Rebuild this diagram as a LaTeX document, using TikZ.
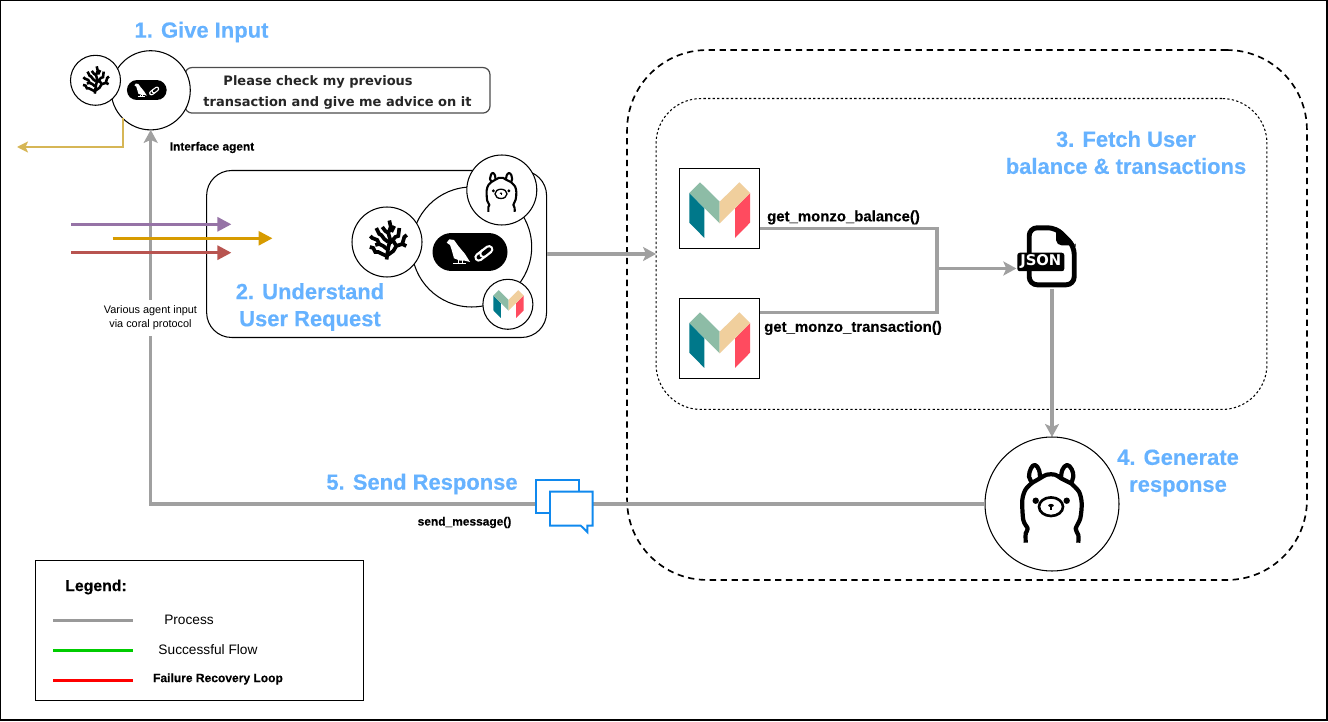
\documentclass[tikz,border=0pt]{standalone}
\usepackage{fontspec}
\setmainfont{Liberation Sans}[BoldFeatures={FakeBold=.4}]
\newfontfamily\dejavu{DejaVu Sans}
\usetikzlibrary{arrows.meta}
\definecolor{stepblue}{HTML}{66B2FF}
\definecolor{flowgray}{HTML}{A0A0A0}
\definecolor{chatblue}{HTML}{1089EE}
\definecolor{linegold}{HTML}{D6B656}
\definecolor{mteal}{HTML}{00788A}
\definecolor{mgreen}{HTML}{8DBCA6}
\definecolor{mtan}{HTML}{F0CF9D}
\definecolor{mred}{HTML}{FF4B5F}
\tikzset{
  steptitle/.style={text=stepblue,font=\fontsize{12.5}{15.4}\selectfont\bfseries,align=center,inner sep=0},
  smalltext/.style={font=\fontsize{6.2}{8}\selectfont,align=center,inner sep=0},
  fntext/.style={font=\fontsize{8.5}{10}\selectfont\bfseries,inner sep=0},
  agent/.style={circle,draw,fill=white,line width=.6pt,inner sep=0,outer sep=0,minimum size=#1},
  roundbox/.style={rectangle,draw,line width=.6pt,inner sep=0,outer sep=0},
  flowarrow/.style={draw=flowgray,line width=1.9pt,-{Stealth[length=.26cm,width=.28cm,inset=.06cm]}},
  flowline/.style={draw=flowgray,line width=1.9pt},
  inarrow/.style={line width=1.7pt,-{Triangle[length=.28cm,width=.28cm]}},
  legendline/.style={line width=1.6pt},
  legendtext/.style={font=\fontsize{7.8}{9}\selectfont,inner sep=0},
  pics/monzo/.style={code={
    \begin{scope}[scale=#1]
      \fill[mteal] (-30.3,-17) -- (-15.3,-1.7) -- (-15.3,28) -- (-30.3,12.7) -- cycle;
      \fill[mred] (30.3,-17) -- (15.3,-1.7) -- (15.3,28) -- (30.3,12.7) -- cycle;
      \fill[mgreen] (-30.3,-17) -- (-19.7,-27.7) -- (0,-8.3) -- (0,13.3) -- cycle;
      \fill[mtan] (0,-8.3) -- (19.7,-27.7) -- (30.3,-17) -- (0,13.3) -- cycle;
    \end{scope}}},
  pics/coral/.style={code={
    \begin{scope}[scale=#1,line width=#1*2.1pt,miter limit=2]
      \draw (-1.7,19.5) -- (0,7) -- (2,0) -- (0,-7) -- (2.5,-13) -- (1,-19.5);
      \draw (-1.7,16) -- (-6,14) -- (-10,12) -- (-13,12) -- (-15,8) -- (-18.5,7);
      \draw (-1.5,9) -- (-5,6) -- (-9,4) -- (-11,0) -- (-16,-2) -- (-18,-4);
      \draw (0,2) -- (-4,-1) -- (-7,-5) -- (-9,-6) -- (-12,-12);
      \draw (-.5,15) -- (5,11) -- (8,6) -- (14,4) -- (16,-3) -- (18.5,-5);
      \draw (2,3) -- (7,-3) -- (10,-4) -- (11,-12);
      \draw (-6,-13) -- (-3,-9) -- (0,-7);
      \draw (3,-8) -- (6,-14);
      \draw (-9,4) -- (-13,5);
      \draw (8,6) -- (5,1);
      \draw (14,4) -- (18,6);
    \end{scope}}},
  pics/llama/.style={code={
    \begin{scope}[scale=#1,line width=#1*2.4pt,line join=round]
      \draw plot[smooth,tension=.5] coordinates {(-26.3,38.7) (-26.3,29.3) (-24.3,24.7) (-28.7,16) (-29.7,-4) (-26.3,-14.7) (-19.7,-21.3)};
      \draw plot[smooth,tension=.7] coordinates {(-19.7,-21.3) (-23,-27.3) (-21,-35.7) (-17,-39) (-13,-34) (-12,-25.7)};
      \draw plot[smooth,tension=.6] coordinates {(-19.7,-21.3) (-12,-25.7) (-5.3,-29.3) (3,-29.3) (9,-25.7) (19,-20.7)};
      \draw plot[smooth,tension=.7] coordinates {(9,-25.7) (10.3,-34) (15,-39) (19.7,-34.7) (21.3,-27.3) (19,-20.7)};
      \draw plot[smooth,tension=.5] coordinates {(19,-20.7) (27,-12.3) (29.7,-.7) (28.3,14.3) (23.7,24.7) (26.3,31) (26.3,38.7)};
      \fill (-16.3,-3.3) circle (3.2);
      \fill (14.7,-3.3) circle (3.2);
      \draw[line width=#1*1.5pt] (-1,2.7) ellipse (12 and 9.3);
      \fill (-1,1.5) ellipse (2.8 and 1.6);
      \draw[line width=#1*.9pt] (-1,1.5) -- (-1,5.5);
    \end{scope}}},
  pics/parrotlink/.style={code={
    \begin{scope}[scale=#1]
      \draw[line width=#1*.76cm,line cap=round] (-18.5,0) -- (18.5,0);
      \fill[white] (-23.3,-9.3) -- (-20.7,-12.7) -- (-16,-12) -- (-11.7,-6) -- (-5,2) -- (0,10) -- (-5,8.7) -- (-10,8.7) -- (-16,6.3) -- (-18.3,-2) -- (-20,-7) -- cycle;
      \draw[white,line width=#1*.5pt] (-17,11.5) -- (-4,11.5) (-11.7,8) -- (-11.7,11.5) (-8,8) -- (-8,11.5);
      \draw[white,line width=#1*5pt,line cap=round] (8.7,5.3) -- (14.4,1);
      \draw[black,line width=#1*2.4pt,line cap=round] (8.7,5.3) -- (14.4,1);
      \draw[white,line width=#1*5pt,line cap=round] (13.5,1.7) -- (19,-2.6);
      \draw[black,line width=#1*2.4pt,line cap=round] (13.5,1.7) -- (19,-2.6);
    \end{scope}}}
}
\begin{document}
\begin{tikzpicture}[x=.02cm,y=-.02cm]
  \useasboundingbox (0,0) rectangle (1328,722);
  \draw[line width=.8pt] (.5,.5) rectangle (1326.8,720);

  \node[roundbox,line width=.95pt,dash pattern=on 3.6pt off 2.6pt,rounded corners=1.6cm,minimum width=13.6cm,minimum height=10.6cm] (outer) at (967,315) {};
  \node[roundbox,dash pattern=on 1.3pt off 1.3pt,rounded corners=.9cm,minimum width=12.22cm,minimum height=6.22cm] (inner) at (961.5,254) {};

  \node[roundbox,rounded corners=.5cm,minimum width=6.8cm,minimum height=3.34cm] (agentbox) at (376.6,254) {};

  \node[roundbox,draw=black!70,line width=.7pt,rounded corners=.14cm,minimum width=6.1cm,minimum height=.91cm] (msg) at (337.5,90.3) {};
  \node[inner sep=0,align=left,text=black!85,font=\dejavu\fontsize{7.4}{11.9}\selectfont\bfseries] (msgtext) at (337.5,92.5) {\hspace*{.4cm}Please check my previous\\transaction and give me advice on it};
  \node[agent=1.584cm] (iface) at (150.7,90.3) {};
  \pic at (146.8,90.3) {parrotlink=.53};
  \node[agent=1cm] (ifacecoral) at (95.5,80.3) {};
  \pic at (96,80) {coral=.7};

  \node[agent=2.4cm] (hub) at (471.7,247) {};
  \pic at (470,252) {parrotlink=1};
  \node[agent=1.4cm] (hubcoral) at (387,242) {};
  \pic at (388.3,240) {coral=1};
  \node[agent=1.4cm] (hubllama) at (501.8,190) {};
  \pic at (501.5,192.5) {llama=.5};
  \node[agent=1cm] (hubmonzo) at (507.9,304.3) {};
  \pic at (508.5,304) {monzo=.5};

  \node[roundbox,fill=white,minimum width=1.61cm,minimum height=1.61cm] (mbal) at (719.7,208.5) {};
  \pic at (719.7,210) {monzo=1};
  \node[roundbox,fill=white,minimum width=1.61cm,minimum height=1.61cm] (mtxn) at (719.7,338.5) {};
  \pic at (719.7,340) {monzo=1};

  \node[agent=2.68cm] (llama) at (1052,504) {};
  \pic at (1052,504) {llama=1};

  \coordinate (goldend) at (17,147);
  \draw[draw=linegold,line width=1.1pt,-{Stealth[length=.22cm,width=.22cm,inset=.05cm]}] (iface.south west) |- (goldend);
  \draw[flowarrow] (llama.west) -| (iface.south);
  \node[smalltext,fill=white,minimum height=.72cm] (various) at (150.5,318) {Various agent input\\via coral protocol};

  \coordinate (pa) at (71.4,224.3);
  \coordinate (pb) at (231.4,224.3);
  \coordinate (oa) at (112.5,238.3);
  \coordinate (ob) at (272.5,238.3);
  \coordinate (ra) at (71.4,252.7);
  \coordinate (rb) at (231.4,252.7);
  \draw[inarrow,color={rgb,255:red,150;green,115;blue,166}] (pa) -- (pb);
  \draw[inarrow,color={rgb,255:red,215;green,155;blue,0}] (oa) -- (ob);
  \draw[inarrow,color={rgb,255:red,184;green,84;blue,80}] (ra) -- (rb);

  \draw[flowarrow] (agentbox.east) -- (inner.west);

  \node[inner sep=0,minimum width=1.2cm,minimum height=1.28cm] (json) at (1046.7,257) {};
  \coordinate (balout) at (760,228.3);
  \coordinate (txnout) at (760,312.3);
  \coordinate (join) at (937,268.5);
  \draw[flowline] (balout) -| (join);
  \draw[flowline] (txnout) -| (join);
  \draw[flowarrow] (join) -- (join -| json.west);
  \draw[flowarrow] (json.south -| llama.north) -- (llama.north);

  \draw[line width=2.8pt,rounded corners=.16cm,fill=white] (1029.2,227.8) -- (1056,227.8) -- (1074.2,246) -- (1074.2,284.8) -- (1029.2,284.8) -- cycle;
  \fill[rounded corners=.04cm] (1056,226.5) -- (1075.5,245) -- (1075.5,245.5) -- (1060,245.5) -- (1056,242) -- cycle;
  \node[fill=black,rounded corners=.05cm,text=white,font=\dejavu\fontsize{8.4}{9}\selectfont\bfseries,inner sep=0,minimum width=.94cm,minimum height=.37cm] (jsonbadge) at (1040.8,262) {JSON};

  \node[rectangle,draw=chatblue,fill=white,line width=1.1pt,inner sep=0,minimum width=.86cm,minimum height=.66cm] (chatback) at (557.5,496.2) {};
  \draw[draw=chatblue,fill=white,line width=1.1pt] (550,491.7) -- (592.7,491.7) -- (592.7,525.7) -- (587.3,525.7) -- (587.3,532) -- (580.8,525.7) -- (550,525.7) -- cycle;

  \node[steptitle] (step1) at (201.5,32) {1. Give Input};
  \node[steptitle] (step2) at (310,307) {2. Understand\\User Request};
  \node[steptitle] (step3) at (1126,152.5) {3. Fetch User\\balance \& transactions};
  \node[steptitle] (step4) at (1178,473) {4. Generate\\response};
  \node[steptitle] (step5) at (422,484) {5. Send Response};

  \node[smalltext,font=\fontsize{6.75}{8}\selectfont\bfseries] (ifacename) at (212,147.5) {Interface agent};
  \node[smalltext,font=\fontsize{6.8}{8}\selectfont\bfseries] (sendname) at (464.5,522.5) {send\_message()};
  \node[fntext] (balname) at (843.5,217.5) {get\_monzo\_balance()};
  \node[fntext] (txnname) at (853,328) {get\_monzo\_transaction()};

  \node[roundbox,line width=.7pt,minimum width=6.56cm,minimum height=2.8cm] (legend) at (199.3,630.3) {};
  \node[font=\fontsize{9}{11}\selectfont\bfseries,inner sep=0] (legendname) at (96,587) {Legend:};
  \coordinate (ga) at (53.3,620.3);
  \coordinate (gb) at (133.3,620.3);
  \coordinate (sa) at (53.3,650.3);
  \coordinate (sb) at (133.3,650.3);
  \coordinate (fa) at (53.3,680.3);
  \coordinate (fb) at (133.3,680.3);
  \draw[legendline,color={rgb,255:red,153;green,153;blue,153}] (ga) -- (gb);
  \draw[legendline,color={rgb,255:red,0;green,204;blue,0}] (sa) -- (sb);
  \draw[legendline,color=red] (fa) -- (fb);
  \node[legendtext] (lproc) at (189,620) {Process};
  \node[legendtext] (lsucc) at (208,650) {Successful Flow};
  \node[legendtext,font=\fontsize{6.85}{8}\selectfont\bfseries] (lfail) at (218,679) {Failure Recovery Loop};
\end{tikzpicture}
\end{document}
